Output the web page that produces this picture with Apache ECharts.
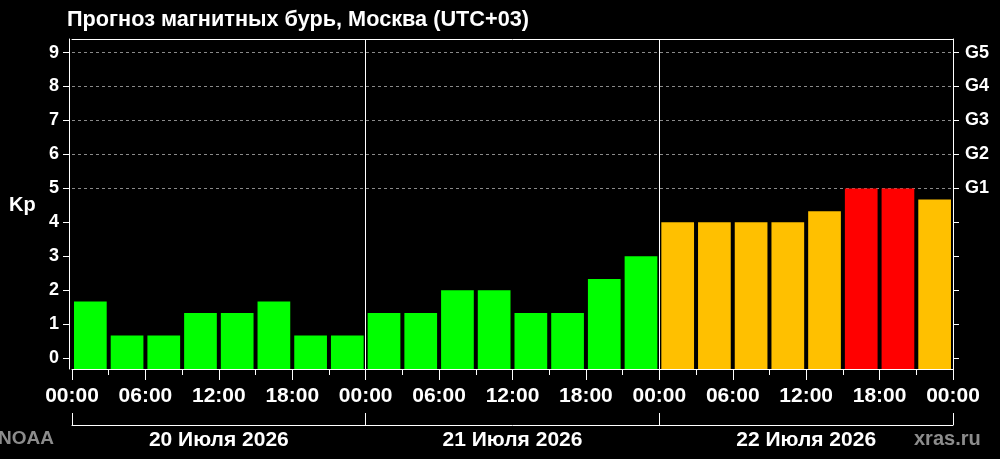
<!DOCTYPE html>
<html>
<head>
<meta charset="utf-8">
<script src="https://cdn.jsdelivr.net/npm/echarts@6/dist/echarts.min.js"></script>
<style>
  html, body { margin: 0; padding: 0; background: #000; }
  #echarts { width: 1000px; height: 459px; }
</style>
</head>
<body>
<div id="echarts"></div>
<script>
var container = document.getElementById('echarts')
var myChart = echarts.init(container)

// прогноз Kp по трёхчасовым интервалам
var days = ['20 Июля 2026', '21 Июля 2026', '22 Июля 2026']
var slotStarts = [0, 3, 6, 9, 12, 15, 18, 21]
var kp20 = [1.67, 0.67, 0.67, 1.33, 1.33, 1.67, 0.67, 0.67]
var kp21 = [1.33, 1.33, 2, 2, 1.33, 1.33, 2.33, 3]
var kp22 = [4, 4, 4, 4, 4.33, 5, 5, 4.67]
var kpTicks = [0, 1, 2, 3, 4, 5, 6, 7, 8, 9]
var gLabels = { 5: 'G1', 6: 'G2', 7: 'G3', 8: 'G4', 9: 'G5' }

var yMin = -0.32
var yMax = 9.4
var font = 'Liberation Sans, Arial, sans-serif'

var data = []
;[kp20, kp21, kp22].forEach(function (day, d) {
    day.forEach(function (v, i) {
        data.push([d * 24 + slotStarts[i], v])
    })
})

function kpColor(v) {
    if (v >= 5) return '#ff0000'
    if (v >= 4) return '#ffc000'
    return '#00ff00'
}

// split lines только на уровнях 5..9
var splitColors = kpTicks.map(function (t) { return t >= 5 ? '#8a8a8a' : 'rgba(0,0,0,0)' })
// вертикальные разделители суток
var daySplit = []
for (var h = 0; h <= 72; h += 6) daySplit.push((h === 24 || h === 48) ? '#ffffff' : 'rgba(0,0,0,0)')

var option = {
    backgroundColor: '#000',
    animation: false,
    title: {
        text: 'Прогноз магнитных бурь, Москва (UTC+03)',
        left: 62,
        top: 4,
        textStyle: { color: '#fff', fontSize: 21.7, fontWeight: 'bold', fontFamily: font }
    },
    graphic: [
        { type: 'text', left: 9, top: 195, style: { text: 'Kp', fill: '#fff', font: 'bold 20px ' + font } },
        { type: 'text', left: -2, top: 429, style: { text: 'NOAA', fill: '#8c8c8c', font: 'bold 19px ' + font } },
        { type: 'text', left: 914, top: 429, style: { text: 'xras.ru', fill: '#8c8c8c', font: 'bold 20px ' + font } }
    ],
    grid: {
        left: 72,
        right: 47,
        top: 39,
        bottom: 90
    },
    xAxis: [{
        type: 'value',
        min: 0,
        max: 72,
        interval: 6,
        axisLine: { show: true, onZero: false, lineStyle: { color: '#fff', width: 1 } },
        axisTick: { show: true, length: 11, lineStyle: { color: '#fff' } },
        minorTick: { show: true, splitNumber: 2, length: 6, lineStyle: { color: '#fff' } },
        axisLabel: {
            color: '#fff',
            fontSize: 21,
            fontWeight: 'bold',
            fontFamily: font,
            margin: 17,
            showMinLabel: true,
            showMaxLabel: true,
            formatter: function (v) {
                var hh = v % 24
                return (hh < 10 ? '0' : '') + hh + ':00'
            }
        },
        splitLine: { show: true, lineStyle: { color: daySplit, width: 1 } }
    }, {
        type: 'category',
        position: 'bottom',
        offset: 56,
        data: days,
        boundaryGap: true,
        axisLine: { show: true, onZero: false, lineStyle: { color: '#fff', width: 1 } },
        axisTick: { show: true, inside: true, length: 12, lineStyle: { color: '#fff' } },
        axisLabel: {
            color: '#fff',
            fontSize: 21,
            fontWeight: 'bold',
            fontFamily: font,
            margin: 5
        },
        splitLine: { show: false }
    }, {
        // верхняя рамка
        type: 'value',
        position: 'top',
        min: 0,
        max: 72,
        axisLine: { show: true, onZero: false, lineStyle: { color: '#fff', width: 1 } },
        axisTick: { show: false },
        axisLabel: { show: false },
        splitLine: { show: false }
    }],
    yAxis: [{
        type: 'value',
        min: yMin,
        max: yMax,
        offset: 3,
        axisLine: { show: true, onZero: false, lineStyle: { color: '#fff', width: 1 } },
        axisTick: { show: true, length: 6, customValues: kpTicks, lineStyle: { color: '#fff' } },
        axisLabel: {
            color: '#fff',
            fontSize: 18,
            fontWeight: 'bold',
            fontFamily: font,
            margin: 10,
            customValues: kpTicks
        },
        splitLine: { show: true, lineStyle: { color: splitColors, type: [3, 3], width: 1 } }
    }, {
        type: 'value',
        position: 'right',
        min: yMin,
        max: yMax,
        axisLine: { show: true, onZero: false, lineStyle: { color: '#fff', width: 1 } },
        axisTick: { show: true, length: 6, customValues: kpTicks, lineStyle: { color: '#fff' } },
        axisLabel: {
            color: '#fff',
            fontSize: 18,
            fontWeight: 'bold',
            fontFamily: font,
            margin: 12,
            customValues: kpTicks,
            formatter: function (v) { return gLabels[v] || '' }
        },
        splitLine: { show: false }
    }],
    series: [{
        type: 'custom',
        xAxisIndex: 0,
        yAxisIndex: 0,
        data: data,
        encode: { x: 0, y: 1 },
        renderItem: function (params, api) {
            var start = api.value(0)
            var v = api.value(1)
            var p0 = api.coord([start, yMin])
            var p1 = api.coord([start + 3, v])
            var x = p0[0] + 2
            var w = p1[0] - p0[0] - 4
            return {
                type: 'rect',
                shape: { x: x, y: p1[1], width: w, height: p0[1] - p1[1] },
                style: { fill: kpColor(v) }
            }
        }
    }]
}

myChart.setOption(option)
</script>
</body>
</html>
